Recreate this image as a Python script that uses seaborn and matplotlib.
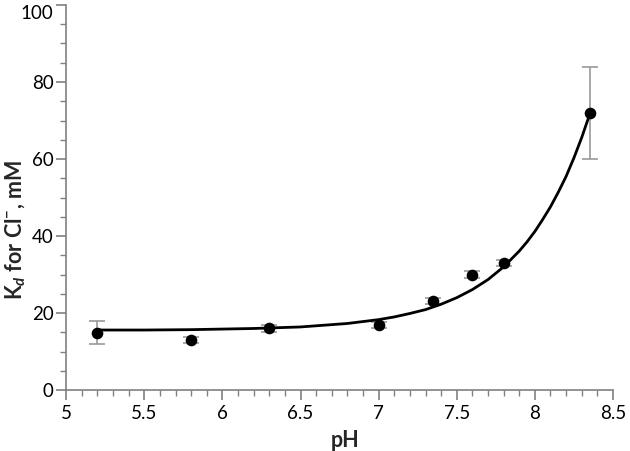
import numpy as np
import pandas as pd
import matplotlib
matplotlib.use('Agg')
import matplotlib.pyplot as plt
from matplotlib.ticker import MultipleLocator
import seaborn as sns

# mesures
ph = [5.2, 5.8, 6.3, 7.0, 7.35, 7.6, 7.8, 8.35]
kd = [14.9, 13.0, 16.0, 17.0, 23.1, 30.0, 33.1, 71.9]
kd_err = [3.0, 0.7, 0.9, 0.8, 0.8, 0.8, 0.8, 12.0]

# courbe ajustée
fit_ph = [5.2, 5.5, 5.8, 6.2, 6.5, 6.8, 7.0, 7.1, 7.2, 7.3, 7.4, 7.5, 7.6, 7.7,
          7.8, 7.9, 7.95, 8.0, 8.05, 8.1, 8.15, 8.2, 8.25, 8.3, 8.35]
fit_kd = [15.6, 15.6, 15.7, 16.0, 16.4, 17.3, 18.3, 19.0, 19.9, 20.9, 22.3, 24.0,
          26.1, 28.7, 32.0, 36.1, 38.5, 41.2, 44.3, 47.6, 51.4, 55.5, 60.3, 65.6, 71.5]

x_ticks = [5, 5.5, 6, 6.5, 7, 7.5, 8, 8.5]
x_labels = ['5', '5.5', '6', '6.5', '7', '7.5', '8', '8.5']
y_ticks = [0, 20, 40, 60, 80, 100]
y_labels = ['0', '20', '40', '60', '80', '100']

sns.set_style('ticks')
plt.rcParams['font.family'] = ['Lato', 'DejaVu Sans']
plt.rcParams['mathtext.fontset'] = 'custom'
plt.rcParams['mathtext.rm'] = 'Lato:bold'
plt.rcParams['mathtext.it'] = 'Lato:bold:italic'

df = pd.DataFrame({'pH': ph, 'Kd': kd})
fit = pd.DataFrame({'pH': fit_ph, 'Kd': fit_kd})

fig = plt.figure(figsize=(6.3, 4.51), dpi=100)
ax = fig.add_axes([0.105, 0.135, 0.868, 0.854])

ax.errorbar(ph, kd, yerr=kd_err, fmt='none', ecolor='#999999', elinewidth=1.2,
            capsize=5.5, capthick=1.2, zorder=1)
sns.lineplot(data=fit, x='pH', y='Kd', color='black', linewidth=2, ax=ax, zorder=2)
sns.scatterplot(data=df, x='pH', y='Kd', color='black', s=70, edgecolor='black',
                linewidth=0, ax=ax, zorder=3)

ax.set_xlim(5, 8.5)
ax.set_ylim(0, 100)
ax.set_xticks(x_ticks, x_labels)
ax.set_yticks(y_ticks, y_labels)
ax.xaxis.set_minor_locator(MultipleLocator(0.1))
ax.yaxis.set_minor_locator(MultipleLocator(5))

for side in ['left', 'bottom']:
    ax.spines[side].set_color('#808080')
    ax.spines[side].set_linewidth(1.2)
sns.despine(ax=ax)
ax.tick_params(which='major', direction='out', length=7, width=1.2, color='#808080',
               labelsize=13.5, labelcolor='black')
ax.tick_params(which='minor', direction='out', length=4, width=1, color='#808080')
ax.tick_params(axis='y', which='major', pad=2)

# le "100" du haut reste dans l'image
ax.get_yticklabels()[-1].set_va('top')

ax.set_xlabel('pH', fontsize=15.5, fontweight='bold')
ax.set_ylabel(r'K$_{d}$ for Cl$^{-}$, mM', fontsize=15.5, fontweight='bold')
ax.xaxis.set_label_coords(0.51, -0.104)
ax.yaxis.set_label_coords(-0.07, 0.415)

fig.savefig('out.png', dpi=100)
